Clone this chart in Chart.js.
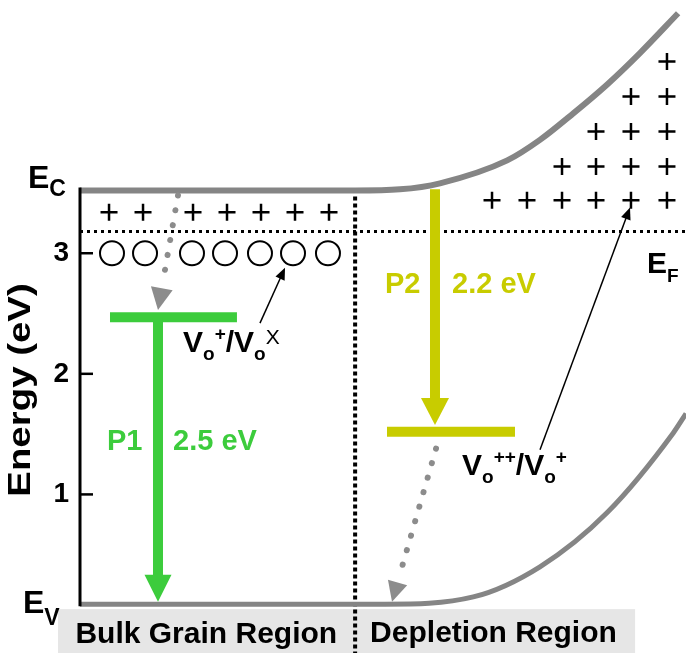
<!DOCTYPE html>
<html>
<head>
<meta charset="utf-8">
<script src="https://cdn.jsdelivr.net/npm/chart.js@4.4.1/dist/chart.umd.min.js"></script>
<style>
  html, body { margin: 0; padding: 0; background: #fff; }
  canvas { display: block; }
</style>
</head>
<body>
<canvas id="bandChart" width="686" height="653"></canvas>
<script>
// energies (eV)
const Ec = 3.52;
const Ev = 0.09;
const Ef = 3.18;
const trapLevel = 3.0;
const p1Level = 2.47;
const p2Level = 1.52;
const tickValues = [1, 2, 3];

// position across the grain: 0 = left axis, 100 = right edge
const boundaryX = 45.4;

// band edges
const cbX = [0, 45.4, 52.8, 59.4, 70.5, 75.9, 81.4, 87.0, 92.4, 98.7];
const cbY = [Ec, Ec, 3.53, 3.58, 3.77, 3.94, 4.16, 4.40, 4.66, 4.99];
const vbX = [0, 50.3, 64.9, 75.9, 87.0, 97.9, 100];
const vbY = [Ev, Ev, 0.15, 0.40, 0.85, 1.51, 1.67];

// ionised donors (+) and neutral vacancies (o)
const bulkPlusX = [4.79, 10.40, 18.65, 24.26, 29.87, 35.48, 41.09];
const bulkPlusY = 3.34;
const depPlusCols = [67.99, 73.76, 79.54, 85.15, 90.92, 96.86];
const depPlusRows = [3.44, 3.72, 4.01, 4.30, 4.59];
const depPlusFirstCol = [0, 2, 3, 4, 5];
const trapX = [5.28, 10.73, 18.48, 23.93, 29.70, 35.15, 40.92];

// defect levels [xStart, xEnd]
const p1Bar = [4.95, 25.9];
const p2Bar = [50.66, 71.78];

// arrows [[x0, y0], [x1, y1]] (tip is the second point)
const p1Arrow = [[12.87, p1Level], [12.87, 0.11]];
const p2Arrow = [[58.58, 3.53], [58.58, 1.575]];
const capture1 = [[16.17, 3.48], [12.87, 2.53]];
const capture2 = [[58.75, 1.38], [51.49, 0.11]];
const pointer1 = [[29.70, 2.42], [33.83, 2.88]];
const pointer2 = [[75.91, 1.37], [90.76, 3.38]];

const FONT = "'Liberation Sans', Arial, Helvetica, sans-serif";
const GREEN = '#3ccc3c';
const YELLOW = '#c8cc00';
const GREY = '#858585';

const xy = (xs, ys) => xs.map((x, i) => ({ x: x, y: Array.isArray(ys) ? ys[i] : ys }));
const pts = (arr) => arr.map(p => ({ x: p[0], y: p[1] }));

const depPlus = [];
depPlusRows.forEach((y, r) => {
  depPlusCols.slice(depPlusFirstCol[r]).forEach(x => depPlus.push({ x: x, y: y }));
});

function lineSet(data, color, width, extra) {
  return Object.assign({
    data: data, showLine: true, borderColor: color, borderWidth: width,
    pointRadius: 0, fill: false, borderCapStyle: 'butt'
  }, extra || {});
}

function arrowSet(p, color, width, head, dash) {
  return { data: pts(p), showLine: false, pointRadius: 0, arrow: { color, width, head, dash } };
}

const datasets = [
  lineSet(xy(cbX, cbY), GREY, 6, { tension: 0.4, cubicInterpolationMode: 'monotone' }),
  lineSet(xy(vbX, vbY), GREY, 5, { tension: 0.4, cubicInterpolationMode: 'monotone' }),
  lineSet([{ x: 0, y: Ef }, { x: 100, y: Ef }], '#000', 3, { borderDash: [3, 4] }),
  lineSet([{ x: boundaryX, y: Ec - 0.05 }, { x: boundaryX, y: -0.32 }], '#000', 4, { borderDash: [4, 3], clip: false }),
  lineSet(xy(p1Bar, p1Level), GREEN, 10),
  lineSet(xy(p2Bar, p2Level), YELLOW, 10),
  { data: xy(bulkPlusX, bulkPlusY).concat(depPlus), pointStyle: 'cross', pointRadius: 8.5,
    pointBorderWidth: 2.5, pointBorderColor: '#000', showLine: false },
  { data: xy(trapX, trapLevel), pointStyle: 'circle', pointRadius: 12, pointBorderWidth: 2,
    pointBorderColor: '#000', pointBackgroundColor: '#fff', showLine: false },
  arrowSet(p1Arrow, GREEN, 10, [27, 27]),
  arrowSet(p2Arrow, YELLOW, 10, [27, 28]),
  arrowSet(capture1, '#8c8c8c', 6, [22, 22], [0.1, 15]),
  arrowSet(capture2, '#8c8c8c', 6, [20, 20], [0.1, 15]),
  arrowSet(pointer1, '#000', 1.5, [12, 10]),
  arrowSet(pointer2, '#000', 1.5, [12, 10])
];

// text annotations: anchor in data units, parts drawn left to right
const notes = [
  { x: 4.46, y: 1.37, color: GREEN, parts: [{ t: 'P1', s: 29 }] },
  { x: 15.35, y: 1.37, color: GREEN, parts: [{ t: '2.5 eV', s: 29 }] },
  { x: 50.33, y: 2.67, color: YELLOW, parts: [{ t: 'P2', s: 29 }] },
  { x: 61.39, y: 2.67, color: YELLOW, parts: [{ t: '2.2 eV', s: 29 }] },
  { x: 17.0, y: 2.18, color: '#000', parts: [
    { t: 'V', s: 30 }, { t: 'o', s: 19, dy: 8 }, { t: '+', s: 19, dy: -12 }, { t: '/', s: 30 },
    { t: 'V', s: 30 }, { t: 'o', s: 19, dy: 8 }, { t: 'X', s: 21, dy: -8, w: 'normal' }] },
  { x: 63.04, y: 1.16, color: '#000', parts: [
    { t: 'V', s: 30 }, { t: 'o', s: 19, dy: 8 }, { t: '++', s: 19, dy: -12 }, { t: '/', s: 30 },
    { t: 'V', s: 30 }, { t: 'o', s: 19, dy: 8 }, { t: '+', s: 19, dy: -12 }] },
  { x: 93.56, y: 2.84, color: '#000', parts: [{ t: 'E', s: 30 }, { t: 'F', s: 19, dy: 9 }] }
];

function drawParts(ctx, parts, x, y) {
  parts.forEach(p => {
    ctx.font = (p.w || 'bold') + ' ' + p.s + 'px ' + FONT;
    ctx.fillText(p.t, x, y + (p.dy || 0));
    x += ctx.measureText(p.t).width;
  });
}

function drawArrow(ctx, a, b, o) {
  const dx = b.x - a.x, dy = b.y - a.y, len = Math.hypot(dx, dy);
  const ux = dx / len, uy = dy / len;
  const bx = b.x - ux * o.head[0], by = b.y - uy * o.head[0];
  ctx.save();
  ctx.strokeStyle = o.color;
  ctx.fillStyle = o.color;
  ctx.lineWidth = o.width;
  if (o.dash) { ctx.setLineDash(o.dash); ctx.lineCap = 'round'; } else { ctx.lineCap = 'butt'; }
  ctx.beginPath();
  ctx.moveTo(a.x, a.y);
  ctx.lineTo(o.dash ? bx - ux * 4 : bx + ux, o.dash ? by - uy * 4 : by + uy);
  ctx.stroke();
  ctx.setLineDash([]);
  const hw = o.head[1] / 2;
  ctx.beginPath();
  ctx.moveTo(b.x, b.y);
  ctx.lineTo(bx - uy * hw, by + ux * hw);
  ctx.lineTo(bx + uy * hw, by - ux * hw);
  ctx.closePath();
  ctx.fill();
  ctx.restore();
}

const bandPlugin = {
  id: 'band',
  beforeDatasetsDraw(chart) {
    const ctx = chart.ctx, x = chart.scales.x, y = chart.scales.y;
    ctx.save();
    ctx.fillStyle = '#e6e6e6';
    const top = y.getPixelForValue(Ev) + 5;
    ctx.fillRect(chart.chartArea.left - 22, top, x.getPixelForValue(91.6) - chart.chartArea.left + 22, chart.height - top);
    ctx.restore();
  },
  afterDatasetsDraw(chart) {
    const ctx = chart.ctx, xs = chart.scales.x, ys = chart.scales.y;
    const left = chart.chartArea.left;
    ctx.save();
    // energy axis from Ev up to Ec with inward ticks
    ctx.strokeStyle = '#000';
    ctx.lineWidth = 3;
    ctx.beginPath();
    ctx.moveTo(left, ys.getPixelForValue(Ev) + 2);
    ctx.lineTo(left, ys.getPixelForValue(Ec) - 3);
    ctx.stroke();
    ctx.lineWidth = 2.5;
    tickValues.forEach(v => {
      const py = ys.getPixelForValue(v);
      ctx.beginPath();
      ctx.moveTo(left, py);
      ctx.lineTo(left + 13, py);
      ctx.stroke();
    });

    chart.data.datasets.forEach((ds, i) => {
      if (!ds.arrow) return;
      const m = chart.getDatasetMeta(i).data;
      drawArrow(ctx, m[0], m[m.length - 1], ds.arrow);
    });

    ctx.textBaseline = 'alphabetic';
    ctx.textAlign = 'left';
    notes.forEach(n => {
      ctx.fillStyle = n.color;
      drawParts(ctx, n.parts, xs.getPixelForValue(n.x), ys.getPixelForValue(n.y));
    });

    // band edge labels
    ctx.fillStyle = '#000';
    drawParts(ctx, [{ t: 'E', s: 32 }, { t: 'C', s: 23, dy: 8 }], left - 52, ys.getPixelForValue(Ec) - 3);
    drawParts(ctx, [{ t: 'E', s: 32 }, { t: 'V', s: 23, dy: 12 }], left - 57, ys.getPixelForValue(Ev) + 9);

    // region labels
    const bx = xs.getPixelForValue(boundaryX);
    ctx.font = 'bold 30px ' + FONT;
    ctx.textAlign = 'right';
    ctx.fillText('Bulk Grain Region', bx - 18, 643);
    ctx.textAlign = 'left';
    ctx.fillText('Depletion Region', bx + 15, 642);

    // axis title
    ctx.translate(30, 390);
    ctx.rotate(-Math.PI / 2);
    ctx.scale(1.2, 1);
    ctx.textAlign = 'center';
    ctx.font = 'bold 32px ' + FONT;
    ctx.fillText('Energy (eV)', 0, 0);
    ctx.restore();
  }
};

new Chart(document.getElementById('bandChart'), {
  type: 'scatter',
  data: { datasets: datasets },
  options: {
    responsive: false,
    animation: false,
    devicePixelRatio: 1,
    layout: { autoPadding: false, padding: { left: 0, right: 0, top: 0, bottom: 38 } },
    plugins: { legend: { display: false }, tooltip: { enabled: false } },
    elements: { line: { borderJoinStyle: 'round' } },
    scales: {
      x: {
        type: 'linear', min: 0, max: 100, display: false,
        ticks: { display: false },
        afterFit(s) { s.paddingLeft = 0; s.paddingRight = 0; s.paddingTop = 0; s.paddingBottom = 0; }
      },
      y: {
        type: 'linear', min: 0, max: 5.1,
        grid: { display: false, drawTicks: false },
        border: { display: false },
        ticks: { color: '#000', padding: 11, font: { family: FONT, size: 28, weight: 'bold' } },
        afterBuildTicks(s) { s.ticks = tickValues.map(v => ({ value: v })); },
        afterFit(s) { s.width = 80; s.paddingTop = 0; s.paddingBottom = 0; s.paddingLeft = 0; s.paddingRight = 0; }
      }
    }
  },
  plugins: [bandPlugin]
});
</script>
</body>
</html>
